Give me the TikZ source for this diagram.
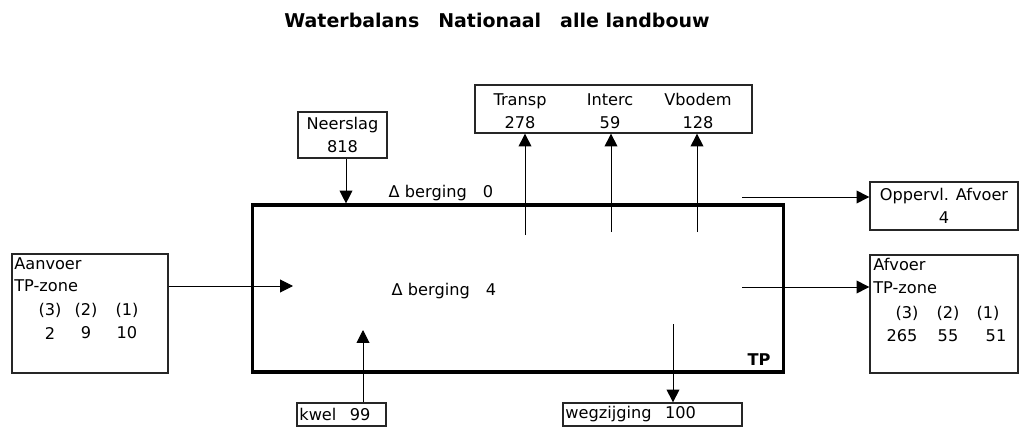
\documentclass[tikz,border=0pt]{standalone}
\usepackage{fontspec}
\setmainfont{DejaVu Sans}
\usetikzlibrary{arrows.meta}

\begin{document}
\begin{tikzpicture}[
    x=0.025cm, y=-0.025cm,
    every node/.style={font=\fontsize{11.5}{16}\selectfont, inner sep=0pt},
    box/.style={draw=black!85, line width=0.9pt, align=center},
    leftbox/.style={box, align=left, inner xsep=0.06cm},
    flow/.style={-{Triangle[length=3.2mm, width=3.2mm]}, line width=0.7pt}
  ]
  \useasboundingbox (0,0) rectangle (1020,427);

  % title
  \node[font=\bfseries\fontsize{13.5}{16}\selectfont] (title) at (497,20)
    {Waterbalans\quad Nationaal\quad alle landbouw};

  % main compartment
  \node[draw, line width=2.2pt, minimum width=13.25cm, minimum height=4.175cm] (tp) at (518,288.5) {};
  \node[font=\bfseries\fontsize{11.5}{16}\selectfont] (tplabel) at (759,360) {TP};
  \node (dbtop) at (441,193) {Δ berging\quad 0};
  \node (dbmid) at (444,291) {Δ berging\quad 4};

  % boxes around it
  \node[box, minimum width=2.225cm, minimum height=1.15cm] (neerslag) at (342.5,135) {Neerslag\\818};
  \node[box, minimum width=6.925cm, minimum height=1.2cm] (evap) at (613.5,109) {};
  \node[box, minimum width=3.7cm, minimum height=1.2cm] (opperv) at (944,206) {Oppervl. Afvoer\\4};
  \node[box, minimum width=3.7cm, minimum height=2.95cm] (afvoer) at (944,314) {};
  \node[box, minimum width=3.9cm, minimum height=2.975cm] (aanvoer) at (90,313.5) {};
  \node[leftbox, text width=2.105cm, minimum height=0.575cm] (kwel) at (341.5,414.5) {kwel\enspace\ 99};
  \node[leftbox, text width=4.355cm, minimum height=0.575cm] (wegz) at (652.5,414.5) {wegzijging\enspace\ 100};

  % box texts
  \foreach \nm/\val/\x in {Transp/278/520, Interc/59/610, Vbodem/128/698}
    \node[align=center] (ev\nm) at (\x,111) {\nm\\\val};
  \node[anchor=north west, align=left] (aanvoertxt) at (14,257) {Aanvoer\\TP-zone};
  \foreach \x/\k/\val in {50/3/2, 86/2/9, 127/1/10} {
    \node (aank\k) at (\x,310) {(\k)};
    \node (aanv\k) at (\x,333) {\val};
  }
  \node[anchor=north west, align=left] (afvoertxt) at (873,258) {Afvoer\\TP-zone};
  \foreach \xa/\xb/\k/\val in {907/902/3/265, 948/948/2/55, 988/996/1/51} {
    \node (afk\k) at (\xa,313) {(\k)};
    \node (afv\k) at (\xb,336) {\val};
  }

  % flows
  \coordinate (neerin) at (346,205);
  \draw[flow] (neerin |- neerslag.south) -- (neerin |- tp.north);
  \foreach \x/\y [count=\i] in {525/235, 611/232, 697/232} {
    \coordinate (evuit\i) at (\x,\y);
    \draw[flow] (evuit\i) -- (evuit\i |- evap.south);
  }
  \coordinate (opuit) at (742,197);
  \draw[flow] (opuit) -- (opuit -| opperv.west);
  \coordinate (afuit) at (742,287);
  \draw[flow] (afuit) -- (afuit -| afvoer.west);
  \coordinate (aanin) at (293,286);
  \draw[flow] (aanin -| aanvoer.east) -- (aanin);
  \coordinate (kwin) at (363,330);
  \draw[flow] (kwin |- kwel.north) -- (kwin);
  \coordinate (wguit) at (673,324);
  \draw[flow] (wguit) -- (wguit |- wegz.north);
\end{tikzpicture}
\end{document}
